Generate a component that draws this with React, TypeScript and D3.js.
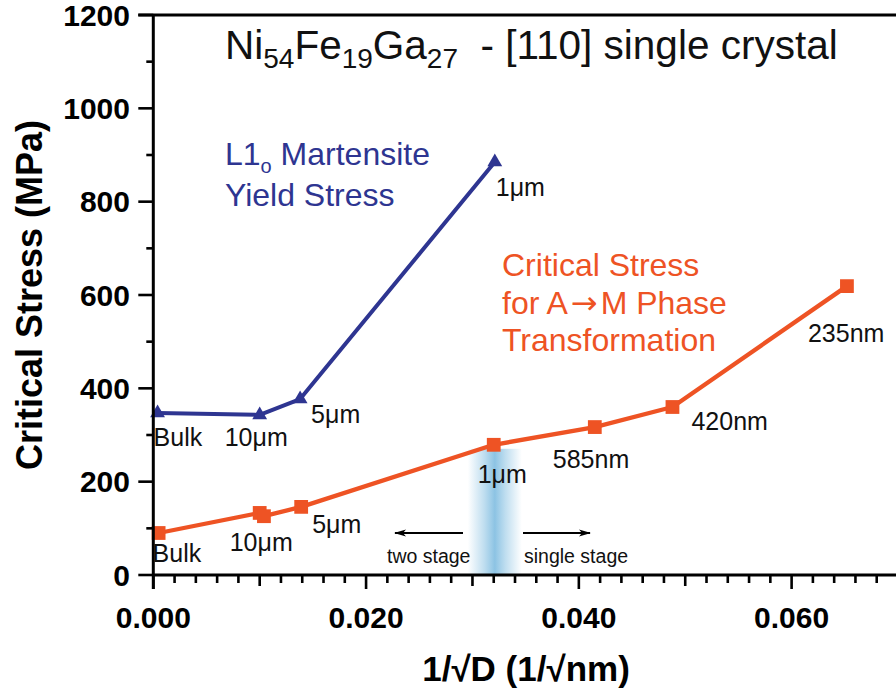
import React from "react";
import * as d3 from "d3";

// Yield stress of L1o martensite (blue triangles)
const yieldLabels = ["Bulk", "10μm", "5μm", "1μm"];
const yieldX = [0.0004, 0.0100, 0.0138, 0.0321];
const yieldY = [347, 343, 377, 885];

// Critical stress for A→M transformation (orange squares)
const critLabels = ["Bulk", "10μm", "", "5μm", "1μm", "585nm", "420nm", "235nm"];
const critX = [0.0005, 0.0100, 0.0104, 0.0139, 0.0320, 0.0415, 0.0488, 0.0652];
const critY = [90, 133, 126, 146, 279, 317, 360, 619];

// Axis ticks
const yMajorTicks = [0, 200, 400, 600, 800, 1000, 1200];
const xMajorTicks = [0, 0.02, 0.04, 0.06];

const W = 896;
const H = 694;
const BLUE = "#2e3591";
const ORANGE = "#ee5324";
const FONT = "'Liberation Sans', Arial, Helvetica, sans-serif";

export default function App() {
  const x = d3.scaleLinear().domain([0, 0.07]).range([153.3, 898]);
  const y = d3.scaleLinear().domain([0, 1200]).range([575, 15]);

  const line = d3
    .line<[number, number]>()
    .x((d) => x(d[0]))
    .y((d) => y(d[1]));

  const yieldPts: [number, number][] = yieldX.map((v, i) => [v, yieldY[i]]);
  const critPts: [number, number][] = critX.map((v, i) => [v, critY[i]]);

  const tri = d3.symbol().type(d3.symbolTriangle).size(95)()!;
  const sq = d3.symbol().type(d3.symbolSquare).size(190)()!;

  // minor ticks
  const xMinor = d3.range(0, 36).map((i) => i * 0.002);
  const yMinor = d3.range(0, 13).map((i) => i * 100);

  // label offsets (relative to the point, in px)
  const yieldOff: [number, number][] = [
    [-4, 33],
    [-35, 31],
    [11, 24],
    [1, 34],
  ];
  const critOff: [number, number][] = [
    [-6, 29],
    [-30, 38],
    [0, 0],
    [11, 26],
    [-16, 38],
    [-42, 41],
    [19, 23],
    [-39, 56],
  ];

  const bandX = 0.0321;
  const bandTop = 279;

  return (
    <svg
      width={W}
      height={H}
      style={{ position: "absolute", left: 0, top: 0, display: "block", background: "#fff" }}
      fontFamily={FONT}
    >
      <defs>
        <linearGradient id="band" x1="0" x2="1" y1="0" y2="0">
          <stop offset="0%" stopColor="#8cc3e3" stopOpacity={0} />
          <stop offset="30%" stopColor="#8cc3e3" stopOpacity={0.55} />
          <stop offset="50%" stopColor="#86c0e2" stopOpacity={0.95} />
          <stop offset="70%" stopColor="#8cc3e3" stopOpacity={0.55} />
          <stop offset="100%" stopColor="#8cc3e3" stopOpacity={0} />
        </linearGradient>
        <marker id="arrow" viewBox="0 0 12 8" refX="11" refY="4" markerWidth="12" markerHeight="8" markerUnits="userSpaceOnUse" orient="auto">
          <path d="M0,0.6 L12,4 L0,7.4 L3,4 Z" fill="#000" />
        </marker>
      </defs>

      {/* transition band near 1 μm */}
      <rect
        x={x(bandX) - 27}
        y={y(bandTop) + 4}
        width={54}
        height={y(0) - y(bandTop) - 4}
        fill="url(#band)"
      />

      {/* two stage / single stage arrows */}
      <line x1={463} y1={533} x2={395} y2={533} stroke="#000" strokeWidth={1.8} markerEnd="url(#arrow)" />
      <line x1={523} y1={533} x2={590} y2={533} stroke="#000" strokeWidth={1.8} markerEnd="url(#arrow)" />
      <text x={387} y={563} fontSize={19.5} fill="#111">two stage</text>
      <text x={524} y={563} fontSize={19.5} fill="#111">single stage</text>

      {/* series lines */}
      <path d={line(yieldPts)!} fill="none" stroke={BLUE} strokeWidth={4} strokeLinejoin="round" />
      <path d={line(critPts)!} fill="none" stroke={ORANGE} strokeWidth={4.3} strokeLinejoin="round" />

      {/* markers */}
      {yieldPts.map((p, i) => (
        <path key={"t" + i} d={tri} transform={`translate(${x(p[0])},${y(p[1])})`} fill={BLUE} />
      ))}
      {critPts.map((p, i) => (
        <path key={"s" + i} d={sq} transform={`translate(${x(p[0])},${y(p[1])})`} fill={ORANGE} />
      ))}

      {/* point labels */}
      {yieldPts.map((p, i) => (
        <text key={"yl" + i} x={x(p[0]) + yieldOff[i][0]} y={y(p[1]) + yieldOff[i][1]} fontSize={25} fill="#111">
          {yieldLabels[i]}
        </text>
      ))}
      {critPts.map((p, i) =>
        critLabels[i] ? (
          <text key={"cl" + i} x={x(p[0]) + critOff[i][0]} y={y(p[1]) + critOff[i][1]} fontSize={25} fill="#111">
            {critLabels[i]}
          </text>
        ) : null
      )}

      {/* series annotations */}
      <text x={225} y={165} fontSize={32} fill={BLUE}>
        <tspan>L1</tspan>
        <tspan fontSize={20} dy={8}>o</tspan>
        <tspan dy={-8}> Martensite</tspan>
      </text>
      <text x={225} y={206} fontSize={32} fill={BLUE}>Yield Stress</text>
      <text x={502} y={276} fontSize={32} fill={ORANGE}>Critical Stress</text>
      <text x={502} y={314} fontSize={32} fill={ORANGE}>
        <tspan>for A</tspan>
        <tspan dx={3} fontFamily="'DejaVu Sans', sans-serif" fontSize={32}>→</tspan>
        <tspan dx={3}>M Phase</tspan>
      </text>
      <text x={502} y={351} fontSize={32} fill={ORANGE}>Transformation</text>

      {/* title */}
      <text x={225} y={59} fontSize={40.5} fill="#111" style={{ whiteSpace: "pre" }}>
        <tspan>Ni</tspan>
        <tspan fontSize={28} dy={9}>54</tspan>
        <tspan dy={-9}>Fe</tspan>
        <tspan fontSize={28} dy={9}>19</tspan>
        <tspan dy={-9}>Ga</tspan>
        <tspan fontSize={28} dy={9}>27</tspan>
        <tspan dy={-9}>{"  - [110] single crystal"}</tspan>
      </text>

      {/* y axis */}
      <line x1={x(0)} x2={x(0)} y1={y(1200)} y2={y(0) + 14} stroke="#000" strokeWidth={3} />
      {yMinor.map((v) => (
        <line
          key={"ym" + v}
          x1={x(0)}
          x2={x(0) - (v % 200 === 0 ? 15 : 7)}
          y1={y(v)}
          y2={y(v)}
          stroke="#000"
          strokeWidth={2.6}
        />
      ))}
      {yMajorTicks.map((v) => (
        <text
          key={"yl" + v}
          x={130}
          y={y(v)}
          dy="0.36em"
          textAnchor="end"
          fontSize={30}
          fontWeight="bold"
          fill="#000"
        >
          {v}
        </text>
      ))}

      {/* top frame */}
      <line x1={x(0) - 15} x2={W} y1={y(1200)} y2={y(1200)} stroke="#000" strokeWidth={3} />

      {/* x axis */}
      <line x1={x(0)} x2={W} y1={y(0)} y2={y(0)} stroke="#000" strokeWidth={3} />
      {xMinor.map((v, i) => (
        <line
          key={"xm" + i}
          x1={x(v)}
          x2={x(v)}
          y1={y(0)}
          y2={y(0) + (i % 10 === 0 ? 14 : i % 5 === 0 ? 11 : 8)}
          stroke="#000"
          strokeWidth={2.6}
        />
      ))}
      {xMajorTicks.map((v) => (
        <text
          key={"xl" + v}
          x={x(v)}
          y={628}
          textAnchor="middle"
          fontSize={30}
          fontWeight="bold"
          fill="#000"
        >
          {v.toFixed(3)}
        </text>
      ))}

      {/* axis titles */}
      <text x={526} y={681} textAnchor="middle" fontSize={35} fontWeight="bold" fill="#000">
        1/√D (1/√nm)
      </text>
      <text
        transform="translate(42,295) rotate(-90)"
        textAnchor="middle"
        fontSize={36}
        fontWeight="bold"
        fill="#000"
      >
        Critical Stress (MPa)
      </text>
    </svg>
  );
}
